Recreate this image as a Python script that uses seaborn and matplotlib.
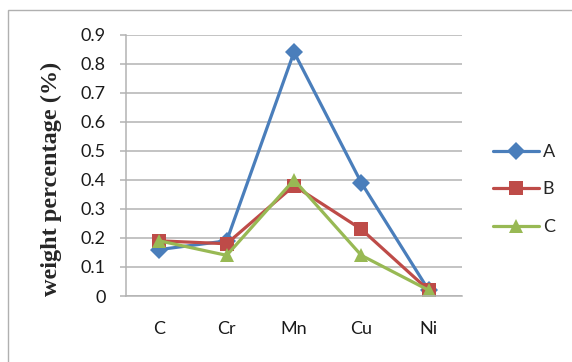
import matplotlib
matplotlib.use("Agg")
import matplotlib.pyplot as plt
import matplotlib.patches as mpatches
import pandas as pd
import seaborn as sns

# Element categories and weight percentages for each sample
elements = ["C", "Cr", "Mn", "Cu", "Ni"]
sample_a = [0.16, 0.19, 0.84, 0.39, 0.02]
sample_b = [0.19, 0.18, 0.38, 0.23, 0.02]
sample_c = [0.19, 0.14, 0.40, 0.14, 0.02]
series_names = ["A", "B", "C"]
y_ticks = [0, 0.1, 0.2, 0.3, 0.4, 0.5, 0.6, 0.7, 0.8, 0.9]
y_tick_labels = ["0", "0.1", "0.2", "0.3", "0.4", "0.5", "0.6", "0.7", "0.8", "0.9"]

rows = []
for name, vals in zip(series_names, [sample_a, sample_b, sample_c]):
    for i, (el, v) in enumerate(zip(elements, vals)):
        rows.append({"pos": i, "element": el, "sample": name, "value": v})
df = pd.DataFrame(rows)

sns.set_theme(style="white")
plt.rcParams["font.family"] = ["Lato", "DejaVu Sans"]

palette = {"A": "#4A7EBB", "B": "#BE4B48", "C": "#98B954"}
markers = {"A": "D", "B": "s", "C": "^"}

fig = plt.figure(figsize=(5.72, 3.62), dpi=100)
ax = fig.add_axes([0.2198, 0.1823, 0.5884, 0.7218])

sns.lineplot(
    data=df, x="pos", y="value", hue="sample", style="sample",
    palette=palette, markers=markers, dashes=False,
    linewidth=2.3, markersize=9.5, markeredgewidth=0,
    ax=ax,
)

grid_col = "#b3b3b3"
ax.set_xlim(-0.5, 4.5)
ax.set_ylim(0, 0.9)
ax.set_yticks(y_ticks)
ax.set_yticklabels(y_tick_labels)
ax.set_xticks(range(len(elements)))
ax.set_xticklabels(elements)
ax.yaxis.grid(True, color=grid_col, linewidth=1.1)
ax.set_axisbelow(True)
for side in ["top", "right"]:
    ax.spines[side].set_visible(False)
for side in ["left", "bottom"]:
    ax.spines[side].set_color(grid_col)
    ax.spines[side].set_linewidth(1.1)

ax.tick_params(axis="y", which="both", left=True, length=4.3, width=1.1,
               color=grid_col, pad=10, labelsize=13, labelcolor="#1a1a1a")
ax.tick_params(axis="x", which="both", bottom=False, length=0, pad=18,
               labelsize=13, labelcolor="#1a1a1a")

ax.set_xlabel("")
ax.set_ylabel("weight percentage (%)", fontsize=17.5, fontweight="bold",
              family=["Liberation Serif", "DejaVu Serif"], va="center")
ax.yaxis.set_label_coords(-0.222, 0.45)

handles, labels = ax.get_legend_handles_labels()
ax.legend(handles, labels, loc="center left", frameon=False,
          bbox_to_anchor=(493 / 572, 1 - 189.5 / 362),
          bbox_transform=fig.transFigure, borderpad=0, borderaxespad=0,
          handlelength=2.55, handletextpad=0.2, labelspacing=1.2,
          fontsize=13)

# Outer chart frame
frame = mpatches.Rectangle((8 / 572, -0.05), 1.1, 1 - 10 / 362 + 0.05,
                           transform=fig.transFigure, fill=False,
                           edgecolor="#b0b0b0", linewidth=1.0, clip_on=False)
fig.patches.append(frame)

fig.savefig("out.png", dpi=100)
